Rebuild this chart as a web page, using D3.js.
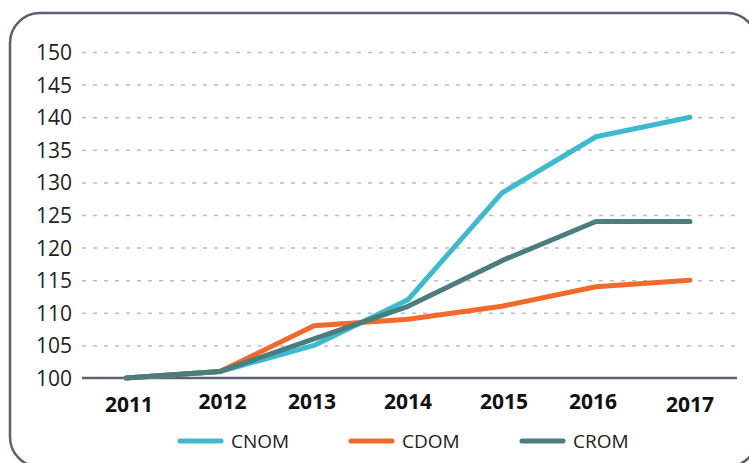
<!DOCTYPE html>
<html><head><meta charset="utf-8">
<script src="https://cdn.jsdelivr.net/npm/d3@7"></script>
<style>body{margin:0;background:#fff}svg{display:block}</style>
</head><body>
<svg id="chart" width="749" height="463"></svg>
<script>
const years = [2011, 2012, 2013, 2014, 2015, 2016, 2017];
const cnom = [100, 101, 105, 112, 128.4, 137, 140];
const cdom = [100, 101, 108, 109, 111, 114, 115];
const crom = [100, 101, 106, 111, 118, 124, 124];
const yTicks = [100, 105, 110, 115, 120, 125, 130, 135, 140, 145, 150];
const seriesNames = ["CNOM", "CDOM", "CROM"];
const colors = ["#3bbad0", "#f26a2b", "#4a7e7c"];

const svg = d3.select("#chart");
const font = "'Open Sans', sans-serif";

svg.append("rect").attr("x", 10).attr("y", 13).attr("width", 747).attr("height", 454)
  .attr("rx", 30).attr("fill", "none").attr("stroke", "#5b6272").attr("stroke-width", 2.5);

const x = d3.scaleLinear().domain([2011, 2017]).range([126, 690]);
const y = d3.scaleLinear().domain([100, 150]).range([378, 52]);

// grid
const grid = svg.append("g").attr("transform", "translate(82,0)")
  .call(d3.axisLeft(y).tickValues(yTicks.slice(1)).tickSize(-655).tickFormat(""));
grid.select(".domain").remove();
grid.selectAll("line").attr("stroke", "#b9bdcc").attr("stroke-width", 1.5).attr("stroke-dasharray", "4,7");

// y labels
const yax = svg.append("g").attr("transform", "translate(72,0)")
  .call(d3.axisLeft(y).tickValues(yTicks).tickSize(0).tickPadding(0));
yax.select(".domain").remove();
yax.selectAll("text").attr("font-family", font).attr("font-size", 21).attr("fill", "#222").attr("dy", "0.36em");

// x axis baseline
svg.append("line").attr("x1", 82).attr("x2", 737).attr("y1", y(100)).attr("y2", y(100))
  .attr("stroke", "#5b6272").attr("stroke-width", 2.5);

// x labels
const xOff = [3, 2.5, -2, 0, 2, -3, 0];
const yOff = [404.5, 401, 401, 401, 401, 401, 404.5];
svg.append("g").selectAll("text").data(years).join("text")
  .attr("x", (d, i) => x(d) + xOff[i]).attr("y", (d, i) => yOff[i])
  .attr("dy", "0.36em").attr("text-anchor", "middle")
  .attr("font-family", font).attr("font-size", 21).attr("font-weight", "bold").attr("fill", "#111")
  .text(d => d);

const line = d3.line().x((d, i) => x(years[i])).y(d => y(d));
const data = [cnom, cdom, crom];
[0, 1, 2].forEach(i => {
  svg.append("path").datum(data[i]).attr("d", line).attr("fill", "none")
    .attr("stroke", colors[i]).attr("stroke-width", 5)
    .attr("stroke-linecap", "round").attr("stroke-linejoin", "round");
});

// legend
const legX = [180, 351, 522];
seriesNames.forEach((n, i) => {
  svg.append("line").attr("x1", legX[i]).attr("x2", legX[i] + 41).attr("y1", 441).attr("y2", 441)
    .attr("stroke", colors[i]).attr("stroke-width", 5).attr("stroke-linecap", "round");
  svg.append("text").attr("x", legX[i] + 51).attr("y", 441).attr("dy", "0.36em")
    .attr("font-family", font).attr("font-size", 19).attr("fill", "#222").text(n);
});
</script>
</body></html>
